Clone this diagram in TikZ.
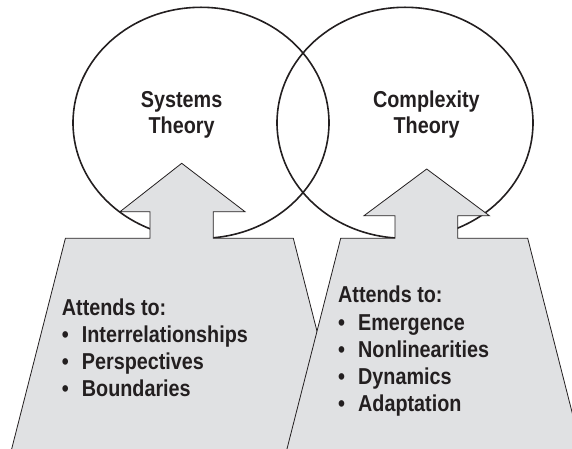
\documentclass[tikz,border=0pt]{standalone}
\usepackage{fontspec}
\setmainfont{Liberation Sans}[FakeStretch=0.86]
\usetikzlibrary{shapes.geometric}
\definecolor{shapegrey}{HTML}{E0E1E3}
\definecolor{inkcol}{HTML}{231F20}
\newcommand{\mybul}{\makebox[20pt][l]{•}}
\begin{document}
\begin{tikzpicture}[x=1pt,y=1pt,
  theory/.style={ellipse, draw=inkcol, line width=1.6pt, minimum width=256pt, minimum height=231pt, inner sep=0pt},
  blockshape/.style={fill=shapegrey, draw=inkcol, line width=0.8pt, line join=miter},
  label/.style={inner sep=0pt, text=inkcol, font=\bfseries\fontsize{23}{27}\selectfont},
  title/.style={label, anchor=base},
  item/.style={label, anchor=base west}]
\useasboundingbox (0,0) rectangle (572,-449);
\clip (0,0) rectangle (572,-449);
% circles
\node[theory] (sys) at (201,-122.8) {};
\node[theory] (cpx) at (405,-122.8) {};
% left arrow + trapezoid
\draw[blockshape] (181.7,-163.3) -- (245,-211.7) -- (213.3,-211.7) -- (213.3,-238.3)
  -- (293.3,-238.3) -- (352.4,-470) -- (6.3,-470) -- (65.4,-238.3)
  -- (150,-238.3) -- (150,-211.7) -- (120,-211.7) -- cycle;
% right arrow + trapezoid
\draw[blockshape] (426.7,-169) -- (489.3,-215.7) -- (457.7,-215.7) -- (457.7,-238.3)
  -- (527.7,-238.3) -- (586.8,-470) -- (281.6,-470) -- (340.7,-238.3)
  -- (395,-238.3) -- (395,-215.7) -- (364,-215.7) -- cycle;
% titles
\node[title] (st1) at (181.6,-107.3) {Systems};
\node[title] (st2) at (181.6,-134) {Theory};
\node[title] (ct1) at (426.4,-107.3) {Complexity};
\node[title] (ct2) at (426.6,-134) {Theory};
% left list
\node[item] (l0) at (61.7,-315) {Attends to:};
\node[item] (l1) at (61.7,-342.3) {\mybul Interrelationships};
\node[item] (l2) at (61.7,-369.5) {\mybul Perspectives};
\node[item] (l3) at (61.7,-396.7) {\mybul Boundaries};
% right list
\node[item] (r0) at (338,-302.5) {Attends to:};
\node[item] (r1) at (338,-330) {\mybul Emergence};
\node[item] (r2) at (338,-357.2) {\mybul Nonlinearities};
\node[item] (r3) at (338,-384.4) {\mybul Dynamics};
\node[item] (r4) at (338,-411.6) {\mybul Adaptation};
\end{tikzpicture}
\end{document}
